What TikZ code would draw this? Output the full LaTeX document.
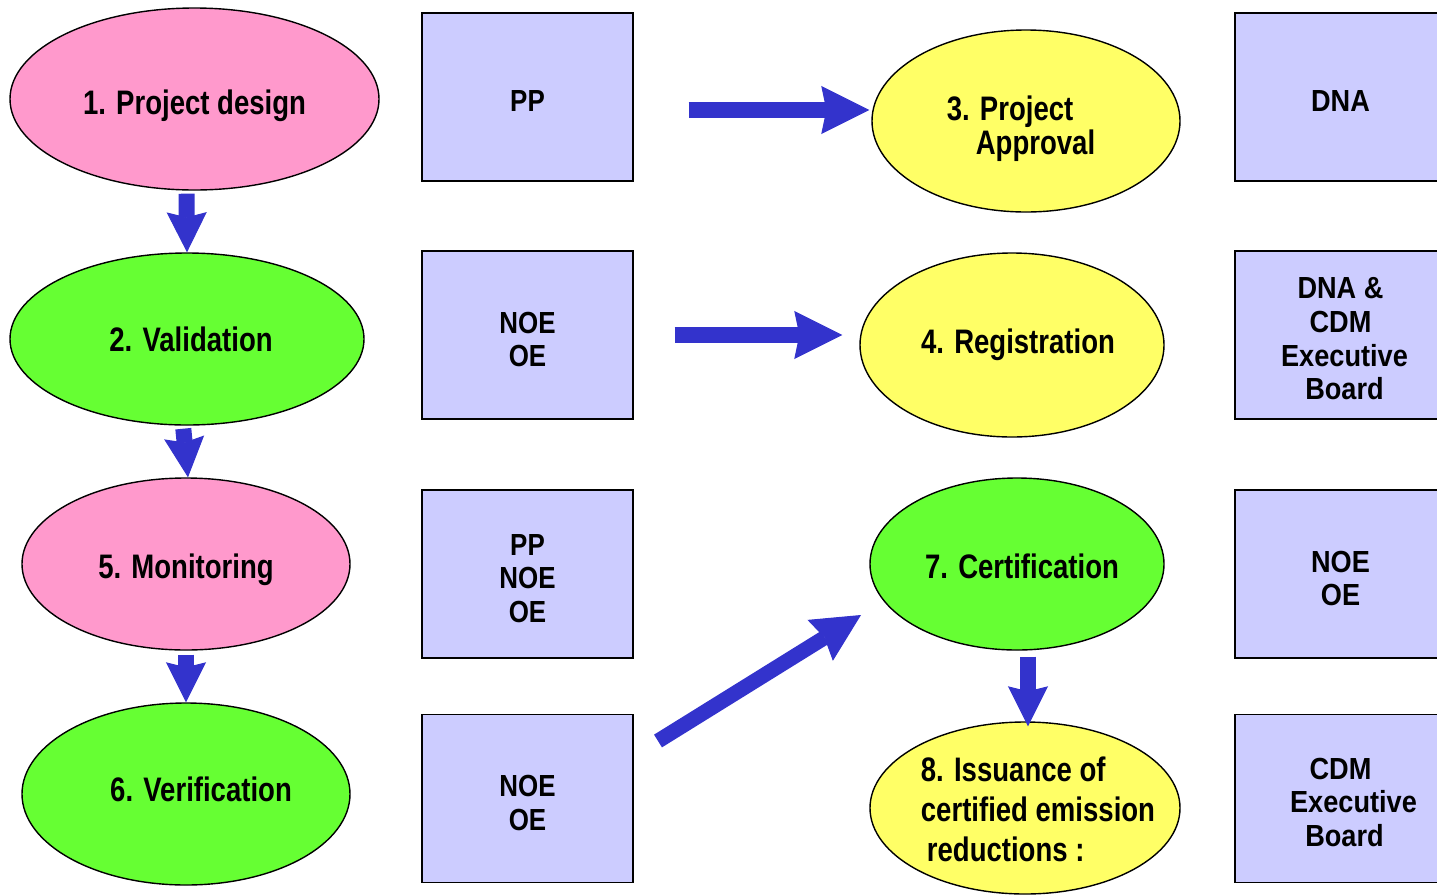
\documentclass[tikz,border=0pt]{standalone}
\usepackage{fontspec}
\setmainfont{Liberation Sans}
\newfontfamily\stagefont{Liberation Sans}[FakeStretch=0.81]
\newfontfamily\actorfont{Liberation Sans}[FakeStretch=0.85]
\newfontfamily\boardfont{Liberation Sans}[FakeStretch=0.89]
\usepackage{tikz}
\usetikzlibrary{arrows.meta,shapes.geometric}

\definecolor{pinkfill}{HTML}{FF99CC}
\definecolor{greenfill}{HTML}{66FF33}
\definecolor{yellowfill}{HTML}{FFFF66}
\definecolor{boxfill}{HTML}{CCCCFF}
\definecolor{arrowblue}{HTML}{3333CC}
\newcommand{\padtop}[1]{\rule{0pt}{#1}}

\begin{document}
\begin{tikzpicture}[x=1pt,y=-1pt,
        stage/.style={ellipse,draw=black,line width=1.4pt,inner sep=0pt,text depth=0pt,font=\stagefont\bfseries\fontsize{34}{34}\selectfont},
        actor/.style={rectangle,draw=black,line width=1.4pt,fill=boxfill,minimum width=211pt,minimum height=168pt,inner sep=0pt,align=center,font=\actorfont\bfseries\fontsize{30.5}{33.5}\selectfont},
        board/.style={actor,font=\boardfont\bfseries\fontsize{30.5}{33.7}\selectfont},
        bigarrow/.style={draw=arrowblue,line width=16pt,-{Stealth[length=40pt,width=40pt,inset=5pt,line width=1pt]}},
        widearrow/.style={bigarrow,-{Stealth[length=48pt,width=48pt,inset=5pt,line width=1pt]}}]
        \useasboundingbox (0,0) rectangle (1437,895);
        % left column: stages 1, 2, 5, 6
        \node[stage,fill=pinkfill,minimum width=369pt,minimum height=182pt,text height=31pt] (e1) at (194.5,99) {1. Project design};
        \node[stage,fill=greenfill,minimum width=354pt,minimum height=172pt] (e2) at (187,339) {\hspace*{8pt}2. Validation};
        \node[stage,fill=pinkfill,minimum width=328pt,minimum height=172pt,text height=29pt] (e5) at (186,564) {5. Monitoring};
        \node[stage,fill=greenfill,minimum width=328pt,minimum height=182pt,text depth=10pt] (e6) at (186,794) {\hspace*{30pt}6. Verification};
        % actors
        \node[actor,text height=29pt] (b1) at (527.5,97) {PP};
        \node[actor] (b2) at (527.5,335) {\padtop{30pt}NOE\\OE};
        \node[actor] (b3) at (527.5,574) {\padtop{30pt}PP\\NOE\\OE};
        \node[actor] (b4) at (527.5,798.5) {\padtop{30pt}NOE\\OE};
        % right column: stages 3, 4, 7, 8
        \node[stage,fill=yellowfill,minimum width=308pt,minimum height=182pt,align=left] (e3) at (1026,121) {\padtop{33pt}3. Project\\\hspace*{29pt}Approval\hspace*{10pt}};
        \node[stage,fill=yellowfill,minimum width=304pt,minimum height=184pt,text depth=8pt] (e4) at (1012,345) {\hspace*{12pt}4. Registration};
        \node[stage,fill=greenfill,minimum width=294pt,minimum height=172pt,text height=29pt] (e7) at (1017,564) {\hspace*{10pt}7. Certification};
        \node[stage,fill=yellowfill,minimum width=310pt,minimum height=172pt] (e8) at (1025,808) {};
        \node[align=left,inner sep=0pt,font=\stagefont\bfseries\fontsize{34}{40}\selectfont] (t8) at (1038,809) {8. Issuance of\\certified emission\\\hspace*{6pt}reductions :};
        \node[board,text height=29pt] (r1) at (1340.5,97) {DNA};
        \node[board] (r2) at (1340.5,335) {\padtop{29pt}DNA \&\\CDM\\\hspace*{8pt}Executive\\\hspace*{8pt}Board};
        \node[board] (r3) at (1340.5,574) {\padtop{30pt}NOE\\OE};
        \node[board] (r4) at (1340.5,798.5) {\padtop{29pt}CDM\\\hspace*{26pt}Executive\\\hspace*{8pt}Board};
        % arrows
        \draw[bigarrow,shorten <=3pt] ([xshift=-8pt]e1.south) -- (e2.north);
        \draw[bigarrow,shorten <=3pt] ([xshift=-4pt]e2.south) -- ([xshift=2pt]e5.north);
        \draw[bigarrow,shorten <=4pt] (e5.south) -- (e6.north);
        \draw[bigarrow,shorten <=6pt,shorten >=-5pt] ([xshift=11pt]e7.south) -- ([xshift=3pt]e8.north);
        \draw[widearrow,shorten <=55pt,shorten >=2pt] ([yshift=-13pt]b1.east) -- ([yshift=-13pt]b1.east -| e3.west);
        \draw[widearrow,shorten <=41pt,shorten >=17pt] (b2.east) -- (b2.east -| e4.west);
        \coordinate (d0) at (658,741);
        \coordinate (d1) at (861,615);
        \draw[widearrow,line width=15pt] (d0) -- (d1);
\end{tikzpicture}
\end{document}
